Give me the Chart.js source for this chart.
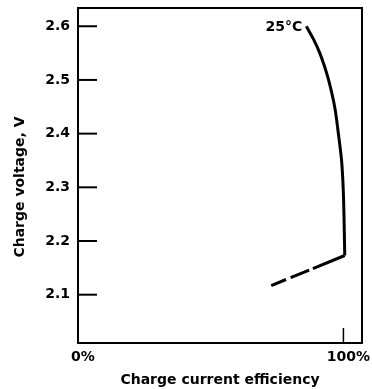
<!DOCTYPE html>
<html>
<head>
<meta charset="utf-8">
<script src="https://cdn.jsdelivr.net/npm/chart.js@4.4.1/dist/chart.umd.min.js"></script>
<style>
  html, body { margin: 0; padding: 0; background: #fff; }
  #wrap { width: 372px; height: 389px; }
</style>
</head>
<body>
<div id="wrap"><canvas id="myChart"></canvas></div>
<script>
// charge current efficiency (%) vs charge voltage (V), 25°C
const effSolid = [86.0, 88.8, 91.1, 92.9, 94.4, 96.7, 98.1, 99.3, 99.9, 100.2, 100.4, 100.5];
const voltSolid = [2.6, 2.575, 2.55, 2.525, 2.5, 2.45, 2.4, 2.35, 2.3, 2.25, 2.2, 2.173];
const effDashed = [72.8, 100.5];
const voltDashed = [2.117, 2.173];
const xTicks = [0, 100];
const yTicks = [2.1, 2.2, 2.3, 2.4, 2.5, 2.6];
const curveLabel = "25°C";

const toPoints = (xs, ys) => xs.map((x, i) => ({ x: x, y: ys[i] }));
const font = "'DejaVu Sans', sans-serif";

const frame = {
  id: "frame",
  afterDraw(chart) {
    const c = chart.ctx;
    const a = chart.chartArea;
    const xs = chart.scales.x;
    const ys = chart.scales.y;
    c.save();
    c.strokeStyle = "#000";
    c.lineWidth = 2;
    c.strokeRect(a.left, a.top, a.right - a.left, a.bottom - a.top);
    // inward ticks
    yTicks.forEach(v => {
      const py = ys.getPixelForValue(v);
      c.beginPath();
      c.moveTo(a.left, py);
      c.lineTo(a.left + 19, py);
      c.stroke();
    });
    c.lineWidth = 1.5;
    xTicks.forEach(v => {
      const px = xs.getPixelForValue(v);
      c.beginPath();
      c.moveTo(px, a.bottom);
      c.lineTo(px, a.bottom - 15);
      c.stroke();
    });
    // curve label
    c.fillStyle = "#000";
    c.font = "bold 14px " + font;
    c.textAlign = "right";
    c.textBaseline = "middle";
    c.fillText(curveLabel, xs.getPixelForValue(effSolid[0]) - 4, ys.getPixelForValue(voltSolid[0]) + 1);
    // y title
    c.translate(20, 187);
    c.rotate(-Math.PI / 2);
    c.textAlign = "center";
    c.font = "bold 14px " + font;
    c.fillText("Charge voltage, V", 0, 0);
    c.restore();
  }
};

const ctx = document.getElementById("myChart");
new Chart(ctx, {
  type: "scatter",
  data: {
    datasets: [
      {
        data: toPoints(effSolid, voltSolid),
        showLine: true,
        borderColor: "#000",
        borderWidth: 3,
        pointRadius: 0,
        indexAxis: "y",
        cubicInterpolationMode: "monotone",
      },
      {
        data: toPoints(effDashed, voltDashed),
        showLine: true,
        borderColor: "#000",
        borderWidth: 3,
        borderDash: [16, 5, 20, 4, 40, 4],
        pointRadius: 0,
      },
    ],
  },
  options: {
    responsive: true,
    maintainAspectRatio: false,
    animation: false,
    layout: { padding: { left: 0, right: 10, top: 8, bottom: 0 } },
    plugins: {
      legend: { display: false },
      tooltip: { enabled: false },
    },
    scales: {
      x: {
        type: "linear",
        min: 0,
        max: 107,
        afterBuildTicks: s => { s.ticks = xTicks.map(v => ({ value: v })); },
        afterFit: s => { s.height = 46; s.paddingLeft = 0; s.paddingRight = 0; },
        grid: { display: false, drawTicks: false },
        border: { display: false },
        ticks: {
          color: "#000",
          padding: 6,
          labelOffset: 5,
          font: { family: font, size: 14, weight: "bold" },
          callback: v => v + "%",
        },
        title: {
          display: true,
          text: "Charge current efficiency",
          color: "#000",
          font: { family: font, size: 14, weight: "bold" },
          padding: 0,
        },
      },
      y: {
        min: 2.01,
        max: 2.634,
        afterBuildTicks: s => { s.ticks = yTicks.map(v => ({ value: v })); },
        afterFit: s => { s.width = 78; s.paddingTop = 0; s.paddingBottom = 0; },
        grid: { display: false, drawTicks: false },
        border: { display: false },
        ticks: {
          color: "#000",
          padding: 8,
          font: { family: font, size: 14, weight: "bold" },
          callback: v => v.toFixed(1),
        },
      },
    },
  },
  plugins: [frame],
});
</script>
</body>
</html>
